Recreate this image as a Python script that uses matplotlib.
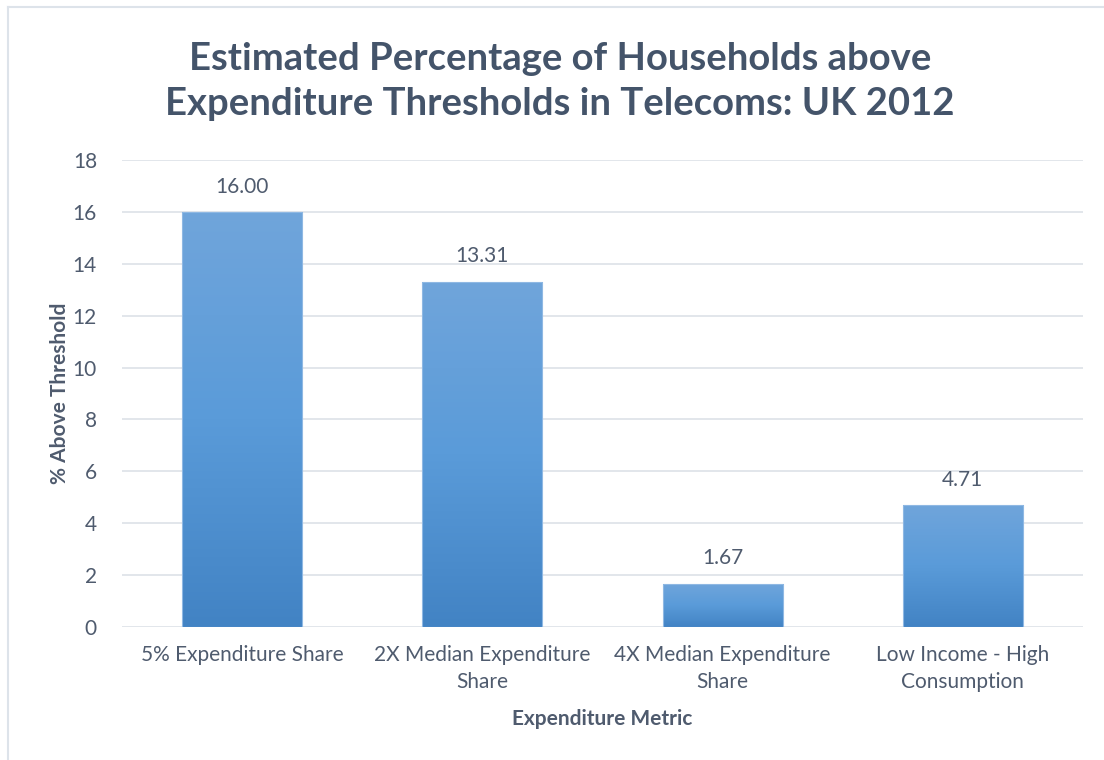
import numpy as np
import matplotlib
matplotlib.use("Agg")
import matplotlib.pyplot as plt
from matplotlib.colors import LinearSegmentedColormap
from matplotlib.lines import Line2D

plt.rcParams['font.family'] = ['Lato', 'DejaVu Sans']

categories = ["5% Expenditure Share", "2X Median Expenditure\nShare",
              "4X Median Expenditure\nShare", "Low Income - High\nConsumption"]
values = [16.00, 13.31, 1.67, 4.71]
yticks = [0, 2, 4, 6, 8, 10, 12, 14, 16, 18]

text_col = "#4f5b6e"
title_col = "#44546a"
grid_col = "#dde1e8"

fig = plt.figure(figsize=(11.04, 7.6), dpi=100)
ax = fig.add_axes([0.1105, 0.175, 0.8705, 0.6145])

x = np.arange(len(values))
bars = ax.bar(x, values, width=0.5, color="none", edgecolor="#8fb8e3",
              linewidth=0.8, zorder=3)

# vertical gradient inside every bar, light at the top, darker at the base
cmap = LinearSegmentedColormap.from_list("bar", ["#4283c4", "#5a9bd9", "#70a5db"])
grad = np.linspace(0, 1, 256).reshape(-1, 1)
for b in bars:
    x0, y0 = b.get_x(), b.get_y()
    im = ax.imshow(grad, cmap=cmap, origin="lower", aspect="auto",
                   extent=[x0, x0 + b.get_width(), y0, y0 + b.get_height()],
                   zorder=2)
    im.set_clip_path(b)

for xi, v in zip(x, values):
    ax.annotate(f"{v:.2f}", (xi, v), xytext=(0, 11), textcoords="offset points",
                ha="center", va="bottom", fontsize=15, color=text_col)

ax.set_xlim(-0.5, 3.5)
ax.set_ylim(0, 18)
ax.set_yticks(yticks)
ax.set_xticks(x)
ax.set_xticklabels(categories, fontsize=15, color=text_col, linespacing=1.45)
ax.tick_params(axis="y", labelsize=15, labelcolor=text_col, length=0, pad=18)
ax.tick_params(axis="x", length=0, pad=13)
ax.grid(axis="y", color=grid_col, linewidth=1.2, zorder=0)
ax.set_axisbelow(True)
for s in ax.spines.values():
    s.set_visible(False)

ax.set_ylabel("% Above Threshold", fontsize=15, fontweight="bold",
              color=text_col, labelpad=2)
ax.set_xlabel("Expenditure Metric", fontsize=15, fontweight="bold",
              color=text_col, labelpad=12)

fig.text(0.507, 0.893, "Estimated Percentage of Households above\n"
         "Expenditure Thresholds in Telecoms: UK 2012",
         ha="center", va="center", fontsize=27.5, fontweight="bold",
         color=title_col, linespacing=1.38)

# chart frame along the top and left edge
fig.add_artist(Line2D([8 / 1104, 1], [1 - 7 / 760, 1 - 7 / 760],
                      transform=fig.transFigure, color="#dde3ea", linewidth=1.5))
fig.add_artist(Line2D([8 / 1104, 8 / 1104], [0, 1 - 7 / 760],
                      transform=fig.transFigure, color="#dde3ea", linewidth=1.5))

fig.savefig("out.png", dpi=100, facecolor="white")
